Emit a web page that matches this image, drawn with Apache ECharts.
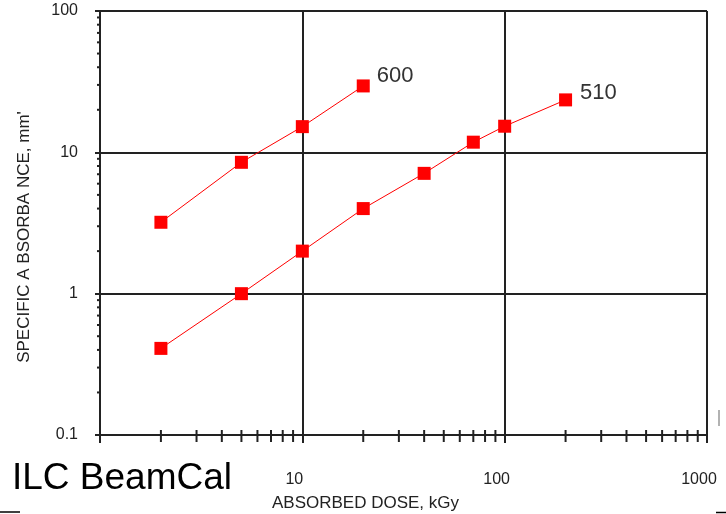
<!DOCTYPE html>
<html>
<head>
<meta charset="utf-8">
<script src="https://cdn.jsdelivr.net/npm/echarts@6/dist/echarts.min.js"></script>
<style>html,body{margin:0;padding:0;background:#fff;}#chart{width:726px;height:514px;}</style>
</head>
<body>
<div id="chart"></div>
<script>
// Data
const dose600 = [2, 5, 10, 20];
const abs600 = [3.2, 8.5, 15.2, 29.5];
const dose510 = [2, 5, 10, 20, 40, 70, 100, 200];
const abs510 = [0.41, 1.0, 2.0, 4.0, 7.1, 11.8, 15.3, 23.5];
const seriesNames = ['600', '510'];
const xTickLabels = ['', '10', '100', '1000'];   // for 1, 10, 100, 1000
const yTickLabels = ['0.1', '1', '10', '100'];
const xMinorTicks = [2,3,4,5,6,7,8,9,20,30,40,50,60,70,80,90,200,300,400,500,600,700,800,900];
const yMinorTicks = [0.2,0.3,0.4,0.5,0.6,0.7,0.8,0.9,2,3,4,5,6,7,8,9,20,30,40,50,60,70,80,90];
const xTitle = 'ABSORBED DOSE, kGy';
const yTitle = "SPECIFIC A BSORBA NCE, mm'";
const caption = 'ILC BeamCal';

const FONT = 'Liberation Sans, Arial, sans-serif';
const INK = '#222';

function makeData(xs, ys, labelOpts) {
  return xs.map((x, i) => {
    const item = { value: [x, ys[i]] };
    if (i === xs.length - 1) item.label = labelOpts;
    return item;
  });
}

const xDecades = [1, 10, 100, 1000];
const yDecades = [0.1, 1, 10, 100];

const chart = echarts.init(document.getElementById('chart'), null, { renderer: 'canvas' });
chart.setOption({
  backgroundColor: '#fff',
  animation: false,
  grid: { left: 100, right: 19, top: 11, bottom: 79, containLabel: false, outerBoundsMode: 'none' },
  xAxis: {
    type: 'log', logBase: 10, min: 1, max: 1000,
    name: xTitle, nameLocation: 'middle', nameGap: 60,
    nameTextStyle: { fontFamily: FONT, fontSize: 17, color: INK, padding: [0, 76, 0, 0] },
    axisLine: { show: true, lineStyle: { color: INK, width: 2 } },
    axisTick: { show: true, inside: false, length: 8, lineStyle: { color: INK, width: 2 } },
    splitLine: { show: true, lineStyle: { color: INK, width: 2 } },
    minorTick: { show: false },
    axisLabel: {
      fontFamily: FONT, fontSize: 16, color: INK, margin: 37, padding: [0, 16, 0, 0],
      formatter: v => { const i = xDecades.findIndex(d => Math.abs(d - v) / d < 1e-6); return i >= 0 ? xTickLabels[i] : ''; }
    }
  },
  yAxis: {
    type: 'log', logBase: 10, min: 0.1, max: 100,
    name: yTitle, nameLocation: 'middle', nameGap: 67, nameRotate: 90,
    nameTextStyle: { fontFamily: FONT, fontSize: 17, color: INK, padding: [0, 28, 0, 0] },
    axisLine: { show: true, lineStyle: { color: INK, width: 2 } },
    axisTick: { show: true, inside: false, length: 5, lineStyle: { color: INK, width: 2 } },
    splitLine: { show: true, lineStyle: { color: INK, width: 2 } },
    minorTick: { show: false },
    axisLabel: {
      fontFamily: FONT, fontSize: 16, color: INK, margin: 22,
      formatter: v => { const i = yDecades.findIndex(d => Math.abs(d - v) / d < 1e-6); return i >= 0 ? yTickLabels[i] : ''; }
    }
  },
  series: [
    {
      name: seriesNames[0], type: 'line', symbol: 'rect', symbolSize: 13,
      lineStyle: { color: '#ff0000', width: 1 }, itemStyle: { color: '#ff0000' },
      data: makeData(dose600, abs600, { show: true, formatter: seriesNames[0], position: 'right', distance: 7, offset: [0, -10], fontFamily: FONT, fontSize: 22, color: '#333' }),
      z: 5
    },
    {
      name: seriesNames[1], type: 'line', symbol: 'rect', symbolSize: 13,
      lineStyle: { color: '#ff0000', width: 1 }, itemStyle: { color: '#ff0000' },
      data: makeData(dose510, abs510, { show: true, formatter: seriesNames[1], position: 'right', distance: 8, offset: [0, -7], fontFamily: FONT, fontSize: 22, color: '#333' }),
      z: 5
    },
    {
      type: 'custom', clip: false, silent: true, z: 4,
      data: xMinorTicks.map(v => [v, 0.1]),
      renderItem: (params, api) => {
        const p = api.coord([api.value(0), api.value(1)]);
        return { type: 'line', shape: { x1: p[0], y1: p[1] - 5, x2: p[0], y2: p[1] + 7 }, style: { stroke: INK, lineWidth: 2 } };
      }
    },
    {
      type: 'custom', clip: false, silent: true, z: 4,
      data: yMinorTicks.map(v => [1, v]),
      renderItem: (params, api) => {
        const p = api.coord([api.value(0), api.value(1)]);
        return { type: 'line', shape: { x1: p[0] - 3, y1: p[1], x2: p[0], y2: p[1] }, style: { stroke: INK, lineWidth: 2 } };
      }
    }
  ],
  graphic: [
    { type: 'text', left: 12, top: 460, z: 100,
      style: { text: caption, fontFamily: FONT, fontSize: 37, fill: '#000', backgroundColor: '#fff' } },
    { type: 'line', z: 100, shape: { x1: 0, y1: 512, x2: 20, y2: 512 }, style: { stroke: '#000', lineWidth: 1.5 } },
    { type: 'line', z: 100, shape: { x1: 716, y1: 512.5, x2: 726, y2: 512.5 }, style: { stroke: '#000', lineWidth: 1.5 } },
    { type: 'line', z: 100, shape: { x1: 719, y1: 410, x2: 719, y2: 426 }, style: { stroke: '#999', lineWidth: 1.5 } }
  ]
});
</script>
</body>
</html>
